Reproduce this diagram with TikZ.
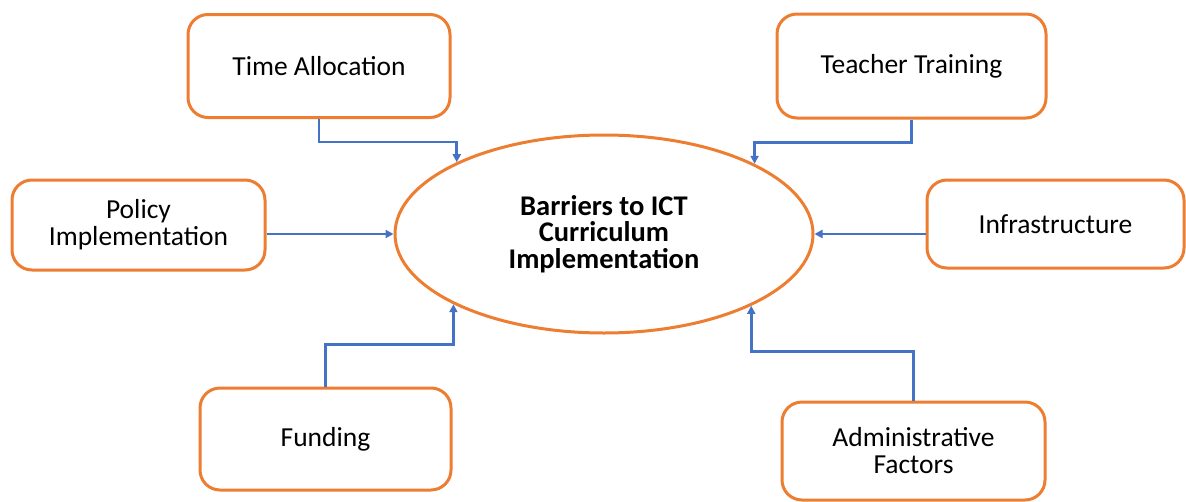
\documentclass[tikz,border=0pt]{standalone}
\usepackage{fontspec}
\setmainfont{Carlito}
\usetikzlibrary{shapes.geometric,arrows.meta}
\definecolor{boxorange}{HTML}{ED7D31}
\definecolor{linkblue}{HTML}{4472C4}
\begin{document}
\begin{tikzpicture}[x=1pt,y=-1pt,
  factor/.style={draw=boxorange,line width=3pt,rounded corners=20pt,fill=white,
    align=center,inner sep=0pt,font=\fontsize{27.5}{27}\selectfont,text=black},
  hub/.style={draw=boxorange,line width=3pt,ellipse,inner sep=0pt,
    minimum width=418pt,minimum height=198pt,align=center,
    font=\fontsize{28.5}{26.5}\selectfont\bfseries},
  link/.style={draw=linkblue,line width=2.8pt,
    -{Triangle[length=8pt,width=8pt]}}]
\useasboundingbox (0,0) rectangle (1186,501);

% central topic
\node[hub] (ell) at (604,234) {Barriers to ICT\\Curriculum\\Implementation};

% surrounding factors
\node[factor,minimum width=262pt,minimum height=103pt] (ta)  at (319,66)    {Time Allocation};
\node[factor,minimum width=269pt,minimum height=104pt] (tt)  at (911.5,66)  {Teacher Training};
\node[factor,minimum width=253pt,minimum height=90pt]  (pol) at (138.5,225) {Policy\\Implementation};
\node[factor,minimum width=257pt,minimum height=88pt]  (inf) at (1055.5,224){Infrastructure};
\node[factor,minimum width=251pt,minimum height=102pt] (fund) at (325.5,439){Funding};
\node[factor,minimum width=263pt,minimum height=98pt]  (adm) at (913.5,451) {Administrative\\Factors};

% connectors into the central topic
\draw[link] (ta.south) -- ++(0,23) -| (ell.154.7);
\draw[link] (tt.south) -- ++(0,23) -| (ell.25.3);
\draw[link] (ell.west -| pol.east) -- (ell.west);
\draw[link] (ell.east -| inf.west) -- (ell.east);
\draw[link] (fund.north) -- ++(0,-42) -| (ell.205.3);
\draw[link] (adm.north) -- ++(0,-49) -| (ell.334.7);
\end{tikzpicture}
\end{document}
